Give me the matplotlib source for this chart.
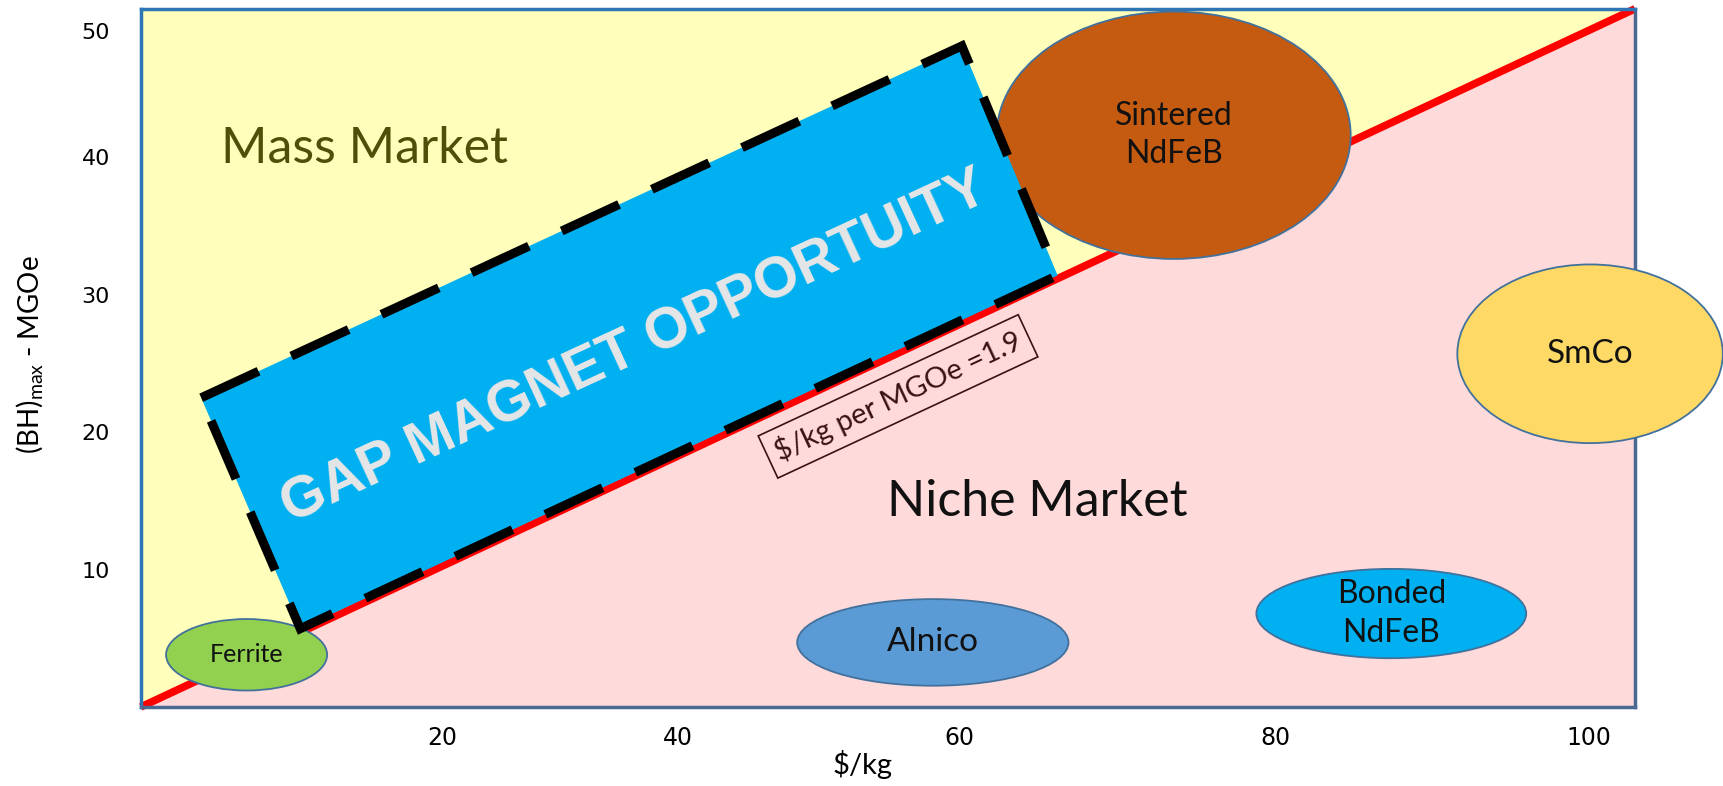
import matplotlib
matplotlib.use("Agg")
from matplotlib import pyplot as plt
from matplotlib.patches import Ellipse, Polygon
import numpy as np

plt.rcParams["mathtext.fontset"] = "custom"
plt.rcParams["mathtext.rm"] = "Lato"

# axis extents and tick labels
x_max = 103
y_max = 50.8
x_tick_pos = [20.8, 37.0, 56.4, 78.2, 99.8]
x_tick_labels = ["20", "40", "60", "80", "100"]
y_tick_pos = [10, 20, 30, 40, 49.2]
y_tick_labels = ["10", "20", "30", "40", "50"]

# magnet families: name, centre x, centre y, width, height, colour, font size
magnet_names = ["Sintered\nNdFeB", "SmCo", "Bonded\nNdFeB", "Alnico", "Ferrite"]
magnet_x = [71.2, 99.9, 86.2, 54.6, 7.3]
magnet_y = [41.6, 25.7, 6.8, 4.7, 3.8]
magnet_w = [24.4, 18.3, 18.6, 18.7, 11.1]
magnet_h = [18.0, 13.0, 6.5, 6.3, 5.2]
magnet_colors = ["#C55A11", "#FFD966", "#00B0F0", "#5B9BD5", "#92D050"]
magnet_fs = [23, 24, 23, 24, 18]

# gap region corners (left, top, right, bottom)
gap_x = [4.17, 56.6, 63.2, 11.0]
gap_y = [22.5, 48.1, 31.4, 5.7]

fig = plt.figure(figsize=(17.24, 7.86), dpi=100)
ax = fig.add_axes([0.0816, 0.1005, 0.8668, 0.8883])
ax.set_xlim(0, x_max)
ax.set_ylim(0, y_max)

# background triangles split by the cost line
ax.fill([0, 0, x_max], [0, y_max, y_max], color="#FFFFBB", zorder=0)
ax.fill([0, x_max, x_max], [0, 0, y_max], color="#FFDADA", zorder=0)
ax.plot([0, x_max], [0, y_max], color="#FF0000", lw=5.5, zorder=1,
        solid_capstyle="butt", clip_on=False)

for name, cx, cy, w, h, c, fs in zip(magnet_names, magnet_x, magnet_y, magnet_w,
                                      magnet_h, magnet_colors, magnet_fs):
    ax.add_patch(Ellipse((cx, cy), w, h, facecolor=c, edgecolor="#41719C",
                         lw=1.3, zorder=3, clip_on=False))
    ax.text(cx, cy, name, ha="center", va="center", fontsize=fs, family="Lato",
            color="#111111", linespacing=1.35, zorder=6)

gap = Polygon(np.column_stack([gap_x, gap_y]), closed=True, facecolor="#00B0F0",
              edgecolor="black", lw=6.5, linestyle=(0, (7, 4)), joinstyle="miter",
              zorder=4)
ax.add_patch(gap)
ax.text(np.mean(gap_x) + 0.3, np.mean(gap_y) - 0.8, "GAP MAGNET OPPORTUITY",
        rotation=24.8, rotation_mode="anchor", ha="center", va="center",
        fontsize=41, fontweight="bold", family="Liberation Sans", color="#E6E6E6",
        zorder=5)

ax.text(15.4, 40.6, "Mass Market", ha="center", va="center", fontsize=36,
        family="Lato", color="#4F4F0A", zorder=2)
ax.text(61.8, 14.9, "Niche Market", ha="center", va="center", fontsize=36,
        family="Lato", color="#111111", zorder=2)
ax.text(52.2, 22.6, "$/kg per MGOe =1.9", rotation=25.0, rotation_mode="anchor",
        ha="center", va="center", fontsize=21, family="Lato", color="#3B1212",
        zorder=2, bbox=dict(boxstyle="square,pad=0.3", facecolor="none",
                            edgecolor="#3B1212", lw=1.2))

ax.set_xticks(x_tick_pos)
ax.set_xticklabels(x_tick_labels, fontsize=17)
ax.set_yticks(y_tick_pos)
ax.set_yticklabels(y_tick_labels, fontsize=16)
ax.tick_params(axis="x", length=0, pad=14)
ax.tick_params(axis="y", length=0, pad=22)
ax.set_xlabel("$/kg", fontsize=21, family="Lato")
ax.xaxis.set_label_coords(0.483, -0.062)
ax.set_ylabel("(BH)$_{\\mathrm{max}}$ - MGOe", fontsize=20, family="Lato",
              va="center")
ax.yaxis.set_label_coords(-0.0736, 0.505)

ax.spines["left"].set_color("#2E75B6")
ax.spines["top"].set_color("#2E75B6")
ax.spines["right"].set_color("#4A6A92")
ax.spines["bottom"].set_color("#4A6A92")
for s in ax.spines.values():
    s.set_linewidth(2.5)
    s.set_zorder(2)

fig.savefig("out.png", dpi=100)
